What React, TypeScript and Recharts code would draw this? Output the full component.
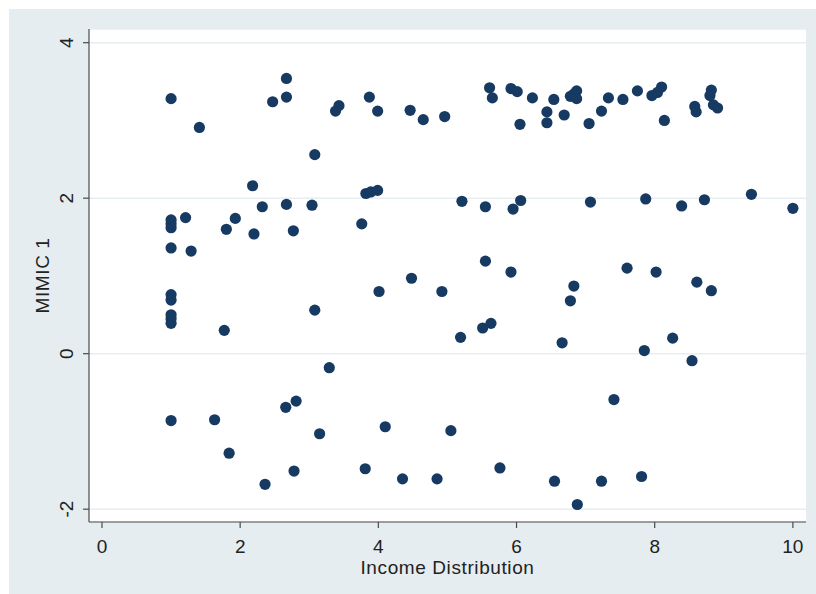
import React from "react";
import {
  ScatterChart,
  Scatter,
  XAxis,
  YAxis,
  CartesianGrid,
  Label,
} from "recharts";

// Income Distribution (x) values
const incomeDistribution: number[] = [
  1.0, 1.0, 1.0, 1.0, 1.0, 1.0, 1.0, 1.0, 1.0, 1.0, 1.0,
  1.41, 1.21, 1.29, 1.8, 1.93, 2.18, 2.2, 2.32, 2.47, 2.67, 2.67, 2.67, 2.77,
  1.77, 1.63, 1.84, 2.36, 2.66, 2.81, 2.78,
  3.38, 3.43, 3.87, 3.99, 4.46, 4.65, 4.96, 5.61, 5.65, 5.92, 6.01, 6.05, 6.23,
  6.44, 6.44, 6.54,
  3.08, 3.04, 3.82, 3.89, 3.99, 3.76, 5.21, 5.55, 5.95, 6.06,
  5.55, 5.92, 4.48, 4.01, 4.92, 3.08, 5.19, 5.51, 5.63, 6.66,
  3.29, 3.15, 4.1, 5.05, 3.81, 4.35, 4.85, 5.76, 6.55,
  6.69, 6.78, 6.83, 6.87, 6.87, 7.05, 7.23, 7.33, 7.54, 7.75, 7.96, 8.04, 8.1,
  8.14, 8.58, 8.6, 8.82, 8.8, 8.85, 8.91,
  7.07, 7.87, 8.39, 8.72, 9.4, 10.0,
  7.6, 8.02, 8.61, 8.82, 6.83, 6.78,
  8.26, 7.85, 8.54, 7.41, 7.23, 7.81, 6.88,
];

// MIMIC 1 (y) values
const mimic1: number[] = [
  3.28, 1.72, 1.67, 1.62, 1.36, 0.76, 0.69, 0.5, 0.45, 0.39, -0.86,
  2.91, 1.75, 1.32, 1.6, 1.74, 2.16, 1.54, 1.89, 3.24, 3.54, 3.3, 1.92, 1.58,
  0.3, -0.85, -1.28, -1.68, -0.69, -0.61, -1.51,
  3.12, 3.19, 3.3, 3.12, 3.13, 3.01, 3.05, 3.42, 3.29, 3.41, 3.37, 2.95, 3.29,
  3.11, 2.97, 3.27,
  2.56, 1.91, 2.06, 2.08, 2.1, 1.67, 1.96, 1.89, 1.86, 1.97,
  1.19, 1.05, 0.97, 0.8, 0.8, 0.56, 0.21, 0.33, 0.39, 0.14,
  -0.18, -1.03, -0.94, -0.99, -1.48, -1.61, -1.61, -1.47, -1.64,
  3.07, 3.31, 3.34, 3.38, 3.28, 2.96, 3.12, 3.29, 3.27, 3.38, 3.32, 3.36, 3.43,
  3.0, 3.18, 3.11, 3.39, 3.32, 3.2, 3.16,
  1.95, 1.99, 1.9, 1.98, 2.05, 1.87,
  1.1, 1.05, 0.92, 0.81, 0.87, 0.68,
  0.2, 0.04, -0.09, -0.59, -1.64, -1.58, -1.94,
];

const xTicks: number[] = [0, 2, 4, 6, 8, 10];
const yTicks: number[] = [-2, 0, 2, 4];
const xLabel = "Income Distribution";
const yLabel = "MIMIC 1";

const data = incomeDistribution.map((x, i) => ({ x, y: mimic1[i] }));

const FONT = "'Liberation Sans', Arial, Helvetica, sans-serif";
const TEXT = "#222";
const AXIS = "#4a4a4a";
const DOT = "#173a63";

const XTick = (props: any) => {
  const { x, y, payload } = props;
  return (
    <text
      x={x}
      y={y}
      dy={23}
      textAnchor="middle"
      fontFamily={FONT}
      fontSize={19}
      fill={TEXT}
    >
      {payload.value}
    </text>
  );
};

const YTick = (props: any) => {
  const { x, y, payload } = props;
  return (
    <text
      transform={`translate(${x - 8},${y}) rotate(-90)`}
      textAnchor="middle"
      fontFamily={FONT}
      fontSize={19}
      fill={TEXT}
    >
      {payload.value}
    </text>
  );
};

const Dot = (props: any) => {
  const { cx, cy } = props;
  if (cx == null || cy == null) return null;
  return <circle cx={cx} cy={cy} r={5.6} fill={DOT} />;
};

const YLabel = (props: any) => {
  const vb = props.viewBox || {};
  const cx = vb.x + 19.5;
  const cy = vb.y + vb.height / 2;
  return (
    <text
      transform={`translate(${cx},${cy}) rotate(-90)`}
      textAnchor="middle"
      fontFamily={FONT}
      fontSize={19}
      letterSpacing={0.6}
      fill={TEXT}
    >
      {yLabel}
    </text>
  );
};

const XLabel = (props: any) => {
  const vb = props.viewBox || {};
  return (
    <text
      x={vb.x + vb.width / 2}
      y={vb.y + 52}
      textAnchor="middle"
      fontFamily={FONT}
      fontSize={19}
      letterSpacing={0.6}
      fill={TEXT}
    >
      {xLabel}
    </text>
  );
};

export default function App() {
  return (
    <div
      style={{
        position: "absolute",
        left: 9,
        top: 9,
        width: 807,
        height: 585,
        background: "#e5edf0",
      }}
    >
      <ScatterChart
        width={807}
        height={585}
        margin={{ top: 20, right: 10, bottom: 0, left: 20 }}
      >
        <CartesianGrid
          vertical={false}
          horizontal={true}
          stroke="#e6eef1"
          strokeWidth={1.5}
          fill="#ffffff"
        />
        <XAxis
          type="number"
          dataKey="x"
          domain={[-0.188, 10.19]}
          ticks={xTicks}
          allowDataOverflow
          height={72}
          tickSize={6}
          tickMargin={2}
          axisLine={{ stroke: AXIS, strokeWidth: 1.2 }}
          tickLine={{ stroke: AXIS, strokeWidth: 1.2 }}
          tick={<XTick />}
          label={<Label content={<XLabel />} />}
        />
        <YAxis
          type="number"
          dataKey="y"
          domain={[-2.165, 4.176]}
          ticks={yTicks}
          allowDataOverflow
          width={60}
          tickSize={6}
          tickMargin={2}
          axisLine={{ stroke: AXIS, strokeWidth: 1.2 }}
          tickLine={{ stroke: AXIS, strokeWidth: 1.2 }}
          tick={<YTick />}
          label={<Label content={<YLabel />} />}
        />
        <Scatter data={data} shape={<Dot />} isAnimationActive={false} />
      </ScatterChart>
    </div>
  );
}
